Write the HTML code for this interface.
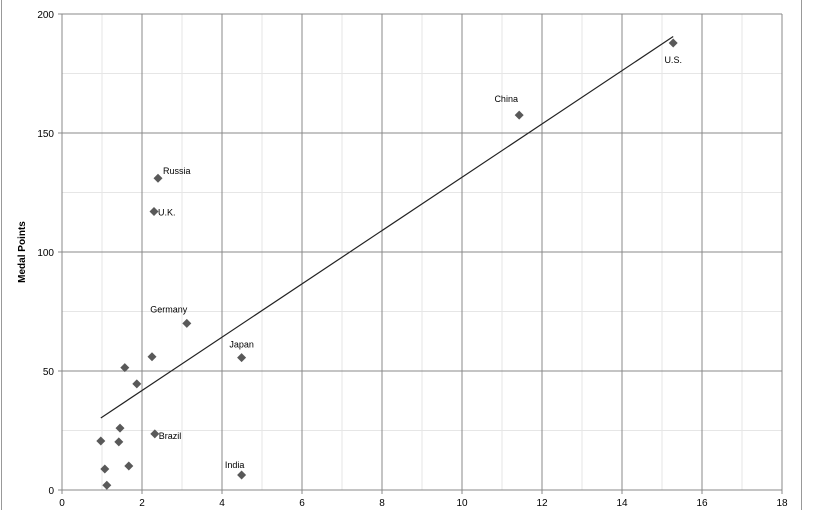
<!DOCTYPE html>
<html><head><meta charset="utf-8"><style>
body{margin:0;background:#fff;font-family:"Liberation Sans",sans-serif}
</style></head><body>
<svg id="chart" width="825" height="510" xmlns="http://www.w3.org/2000/svg">
<rect x="1.5" y="-2" width="800" height="520" fill="#fff" stroke="#999"/>
<g id="grid"></g><g id="axes"></g><g id="marks"></g>
<text transform="translate(25,252) rotate(-90)" text-anchor="middle" font-size="10" font-weight="bold" fill="#000">Medal Points</text>
</svg>
<script>
const xVals=[15.28,11.43,2.40,2.30,3.12,4.49,2.25,1.57,1.87,1.45,0.97,1.42,2.32,1.67,1.07,1.12,4.49];
const yVals=[187.8,157.5,131,117,70,55.6,56,51.4,44.6,26,20.6,20.2,23.6,10.1,8.8,2,6.3];
const labels=["U.S.","China","Russia","U.K.","Germany","Japan","","","","","","","Brazil","","","","India"];
const xTicks=[0,2,4,6,8,10,12,14,16,18];
const yTicks=[0,50,100,150,200];
const trend=[0.97,15.28];
const trendSlope=11.2, trendIntercept=19.4;
const X0=62,X1=782,Y0=490,Y1=14;
const sx=v=>X0+(v/18)*(X1-X0), sy=v=>Y0-(v/200)*(Y0-Y1);
const NS="http://www.w3.org/2000/svg";
function mk(p,t,a){const e=document.createElementNS(NS,t);for(const k in a)e.setAttribute(k,a[k]);p.appendChild(e);return e;}
const g=document.getElementById('grid'),ax=document.getElementById('axes'),m=document.getElementById('marks');
for(let v=1;v<18;v+=2){const l=mk(g,'line',{x1:sx(v),x2:sx(v),y1:Y1,y2:Y0,stroke:'#e6e6e6'});}
for(let v=25;v<200;v+=50){const l=mk(g,'line',{x1:X0,x2:X1,y1:sy(v),y2:sy(v),stroke:'#e6e6e6'});}
xTicks.forEach(v=>{const l=mk(g,'line',{x1:sx(v),x2:sx(v),y1:Y1,y2:Y0+4,stroke:'#888'});
const t=mk(ax,'text',{x:sx(v),y:Y0+16,'text-anchor':'middle','font-size':10,fill:'#000'});t.textContent=v;});
yTicks.forEach(v=>{const l=mk(g,'line',{x1:X0-4,x2:X1,y1:sy(v),y2:sy(v),stroke:'#888'});
const t=mk(ax,'text',{x:X0-8,y:sy(v)+4,'text-anchor':'end','font-size':10,fill:'#000'});t.textContent=v;});
const tl=mk(m,'line',{x1:sx(trend[0]),y1:sy(trendIntercept+trendSlope*trend[0]),x2:sx(trend[1]),y2:sy(trendIntercept+trendSlope*trend[1]),stroke:'#222','stroke-width':1.2});

const off={"U.S.":[0,20,'middle'],"China":[-13,-13,'middle'],"Russia":[5,-4,'start'],"U.K.":[4,4,'start'],"Germany":[-18,-11,'middle'],"Japan":[0,-10,'middle'],"Brazil":[4,5,'start'],"India":[-7,-7,'middle']};
xVals.forEach((v,i)=>{const cx=sx(v),cy=sy(yVals[i]);
const p=mk(m,'polygon',{points:`${cx},${cy-4.5} ${cx+4.5},${cy} ${cx},${cy+4.5} ${cx-4.5},${cy}`,fill:'#595959'});

if(labels[i]){const o=off[labels[i]];const t=mk(m,'text',{x:cx+o[0],y:cy+o[1],'text-anchor':o[2],'font-size':9,fill:'#000'});t.textContent=labels[i];
}});
</script>
</body></html>
